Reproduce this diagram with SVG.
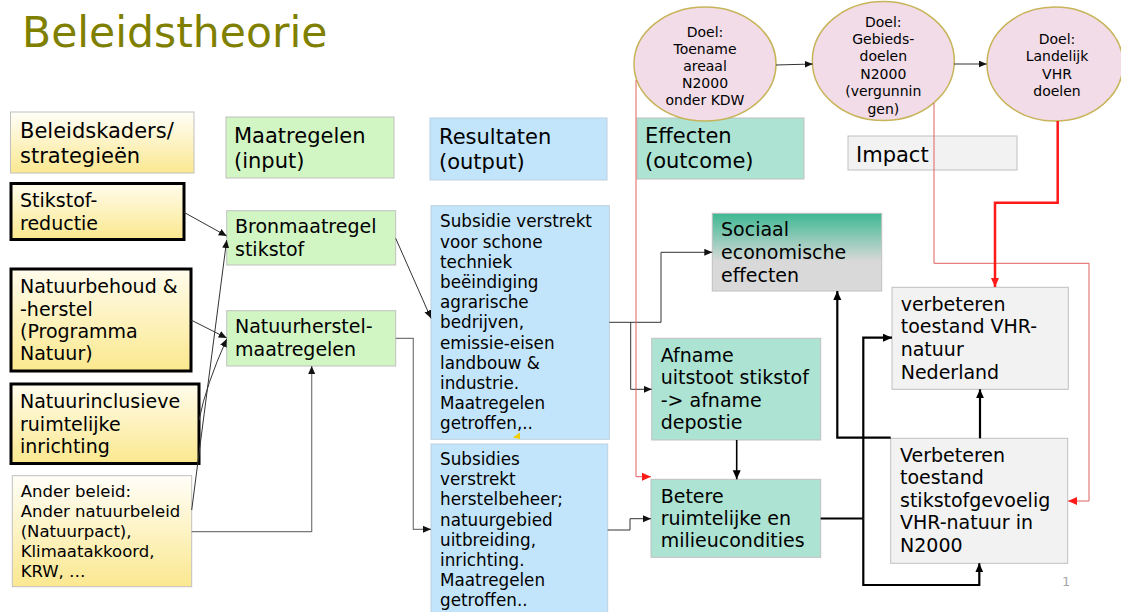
<svg xmlns="http://www.w3.org/2000/svg" width="1121" height="612" viewBox="0 0 1121 612">
<defs>
<style>
.t{font-family:"DejaVu Sans",Verdana,sans-serif;fill:#000}
.h{font-size:21px}
.m{font-size:19px}
.s{font-size:16.8px}
.e{font-size:14px;text-anchor:middle}
.thin{fill:none;stroke:#333;stroke-width:1}
.grey{fill:none;stroke:#777;stroke-width:1.2}
.thick{fill:none;stroke:#000;stroke-width:2.2}
.redthin{fill:none;stroke:#e06060;stroke-width:1}
.redthick{fill:none;stroke:#ff1a1a;stroke-width:2.5}
.bx{stroke:#c0c0c0;stroke-width:1}
.bold{stroke:#000;stroke-width:3}
.ell{fill:#f1dce8;stroke:#c8b45a;stroke-width:1.5}
</style>
<linearGradient id="gy" x1="0" y1="0" x2="0" y2="1"><stop offset="0" stop-color="#fffcec"/><stop offset="1" stop-color="#fbe88e"/></linearGradient>
<linearGradient id="gy2" x1="0" y1="0" x2="0" y2="1"><stop offset="0" stop-color="#fffef8"/><stop offset="1" stop-color="#fbe890"/></linearGradient>
<linearGradient id="gs" x1="0" y1="0" x2="0" y2="1"><stop offset="0" stop-color="#3db892"/><stop offset="0.62" stop-color="#d9d9d9"/><stop offset="1" stop-color="#d9d9d9"/></linearGradient>
<marker id="ab" markerUnits="userSpaceOnUse" markerWidth="9" markerHeight="8" refX="8" refY="3.5" orient="auto"><path d="M0,0 L8,3.5 L0,7 z" fill="#111"/></marker>
<marker id="abk" markerUnits="userSpaceOnUse" markerWidth="10" markerHeight="9" refX="9" refY="4" orient="auto"><path d="M0,0 L9,4 L0,8 z" fill="#000"/></marker>
<marker id="ar" markerUnits="userSpaceOnUse" markerWidth="10" markerHeight="9" refX="9" refY="4" orient="auto"><path d="M0,0 L9,4 L0,8 z" fill="#ff1a1a"/></marker>
</defs>
<rect width="1121" height="612" fill="#fff"/>
<text class="t" x="22" y="47" font-size="42.5" style="fill:#808000">Beleidstheorie</text>

<g id="hdr-beleidskaders"><rect class="bx" x="10.5" y="112" width="183.5" height="61" fill="url(#gy2)"/><text class="t h"><tspan x="20" y="138">Beleidskaders/</tspan><tspan x="20" y="163">strategieën</tspan></text></g>
<g id="hdr-maatregelen"><rect class="bx" x="226" y="117" width="168" height="61" fill="#d2f5c4"/><text class="t h"><tspan x="234" y="143">Maatregelen</tspan><tspan x="234" y="168">(input)</tspan></text></g>
<g id="hdr-resultaten"><rect x="430" y="118" width="177" height="62" fill="#c3e5fb" stroke="#bcd0e0" stroke-width="1"/><text class="t h"><tspan x="439" y="144">Resultaten</tspan><tspan x="439" y="169">(output)</tspan></text></g>
<g id="hdr-effecten"><rect class="bx" x="637" y="118" width="167" height="61" fill="#ade3d2"/><text class="t h"><tspan x="645" y="143">Effecten</tspan><tspan x="645" y="168">(outcome)</tspan></text></g>
<g id="hdr-impact"><rect class="bx" x="848" y="136" width="169" height="34" fill="#f2f2f2"/><text class="t h" x="856" y="162">Impact</text></g>

<g id="doel1"><ellipse class="ell" cx="705" cy="64" rx="71" ry="57"/><text class="t e"><tspan x="705" y="36.5">Doel:</tspan><tspan x="705" y="53.7">Toename</tspan><tspan x="705" y="70.9">areaal</tspan><tspan x="705" y="88.1">N2000</tspan><tspan x="705" y="105.3">onder KDW</tspan></text></g>
<g id="doel2"><ellipse class="ell" cx="883.3" cy="61" rx="71" ry="59.5"/><text class="t e"><tspan x="883.3" y="26.7">Doel:</tspan><tspan x="883.3" y="44">Gebieds-</tspan><tspan x="883.3" y="61.4">doelen</tspan><tspan x="883.3" y="78.8">N2000</tspan><tspan x="883.3" y="96.2">(vergunnin</tspan><tspan x="883.3" y="113.6">gen)</tspan></text></g>
<g id="doel3"><ellipse class="ell" cx="1055" cy="64" rx="68" ry="57"/><text class="t e"><tspan x="1057" y="44">Doel:</tspan><tspan x="1057" y="61.4">Landelijk</tspan><tspan x="1057" y="78.8">VHR</tspan><tspan x="1057" y="96.2">doelen</tspan></text></g>

<g id="stikstofreductie"><rect class="bold" x="11" y="183.5" width="173" height="56" fill="url(#gy)"/><text class="t m"><tspan x="20" y="207.3">Stikstof-</tspan><tspan x="20" y="229.5">reductie</tspan></text></g>
<g id="natuurbehoud"><rect class="bold" x="11" y="269" width="180" height="102" fill="url(#gy)"/><text class="t m"><tspan x="20" y="293.3">Natuurbehoud &amp;</tspan><tspan x="20" y="315.5">-herstel</tspan><tspan x="20" y="337.7">(Programma</tspan><tspan x="20" y="360">Natuur)</tspan></text></g>
<g id="natuurinclusief"><rect class="bold" x="11" y="384" width="188" height="79.5" fill="url(#gy)"/><text class="t m"><tspan x="20" y="408.3">Natuurinclusieve</tspan><tspan x="20" y="430.6">ruimtelijke</tspan><tspan x="20" y="453">inrichting</tspan></text></g>
<g id="anderbeleid"><rect class="bx" x="12.3" y="475.7" width="179.4" height="111" fill="url(#gy2)"/><text class="t s" style="font-size:16.5px"><tspan x="20.7" y="496.7">Ander beleid:</tspan><tspan x="20.7" y="516.8">Ander natuurbeleid</tspan><tspan x="20.7" y="536.9">(Natuurpact),</tspan><tspan x="20.7" y="557">Klimaatakkoord,</tspan><tspan x="20.7" y="577.1">KRW, …</tspan></text></g>

<g id="bronmaatregel"><rect class="bx" x="226.7" y="210.7" width="169" height="54.3" fill="#d2f5c4"/><text class="t m"><tspan x="235" y="233.3">Bronmaatregel</tspan><tspan x="235" y="256">stikstof</tspan></text></g>
<g id="natuurherstel"><rect class="bx" x="226.7" y="310.7" width="169" height="55.3" fill="#d2f5c4"/><text class="t m"><tspan x="235" y="333.3">Natuurherstel-</tspan><tspan x="235" y="356.3">maatregelen</tspan></text></g>

<g id="resultaat1"><rect x="431" y="205.7" width="178.3" height="233.6" fill="#c3e5fb" stroke="#bcd0e0" stroke-width="1"/><text class="t s"><tspan x="440" y="227.3">Subsidie verstrekt</tspan><tspan x="440" y="247.5">voor schone</tspan><tspan x="440" y="267.7">techniek</tspan><tspan x="440" y="287.9">beëindiging</tspan><tspan x="440" y="308.1">agrarische</tspan><tspan x="440" y="328.3">bedrijven,</tspan><tspan x="440" y="348.5">emissie-eisen</tspan><tspan x="440" y="368.7">landbouw &amp;</tspan><tspan x="440" y="388.9">industrie.</tspan><tspan x="440" y="409.1">Maatregelen</tspan><tspan x="440" y="429.3">getroffen,..</tspan></text><polygon points="520,432.5 513,437.5 520,439" fill="#f2cc00"/></g>
<g id="resultaat2"><rect x="431" y="444" width="176.7" height="175" fill="#c3e5fb" stroke="#bcd0e0" stroke-width="1"/><text class="t s"><tspan x="440" y="465">Subsidies</tspan><tspan x="440" y="485.2">verstrekt</tspan><tspan x="440" y="505.4">herstelbeheer;</tspan><tspan x="440" y="525.6">natuurgebied</tspan><tspan x="440" y="545.8">uitbreiding,</tspan><tspan x="440" y="566">inrichting.</tspan><tspan x="440" y="586.2">Maatregelen</tspan><tspan x="440" y="606.4">getroffen..</tspan></text></g>

<g id="sociaal"><rect class="bx" x="712.3" y="213.3" width="169.4" height="77.7" fill="url(#gs)"/><text class="t m"><tspan x="721" y="236">Sociaal</tspan><tspan x="721" y="259">economische</tspan><tspan x="721" y="281.7">effecten</tspan></text></g>
<g id="afname"><rect class="bx" x="651.7" y="338.3" width="169" height="101.7" fill="#ade3d2"/><text class="t m"><tspan x="660.7" y="361.7">Afname</tspan><tspan x="660.7" y="384.2">uitstoot stikstof</tspan><tspan x="660.7" y="406.7">-&gt; afname</tspan><tspan x="660.7" y="429">depostie</tspan></text></g>
<g id="betere"><rect class="bx" x="651" y="479.3" width="169.7" height="78" fill="#ade3d2"/><text class="t m"><tspan x="660.7" y="502.7">Betere</tspan><tspan x="660.7" y="525">ruimtelijke en</tspan><tspan x="660.7" y="547.3">milieucondities</tspan></text></g>

<g id="vhr-nederland"><rect class="bx" x="892" y="287.3" width="176.3" height="102" fill="#f2f2f2"/><text class="t m"><tspan x="900.7" y="310.7">verbeteren</tspan><tspan x="900.7" y="333.3">toestand VHR-</tspan><tspan x="900.7" y="356">natuur</tspan><tspan x="900.7" y="378.7">Nederland</tspan></text></g>
<g id="vhr-n2000"><rect class="bx" x="890.7" y="438.3" width="177" height="125" fill="#f2f2f2"/><text class="t m"><tspan x="900" y="461.7">Verbeteren</tspan><tspan x="900" y="484.2">toestand</tspan><tspan x="900" y="506.7">stikstofgevoelig</tspan><tspan x="900" y="529.2">VHR-natuur in</tspan><tspan x="900" y="551.7">N2000</tspan></text></g>

<g id="connectors">
<path class="thin" d="M184,212.3 L226.7,236" marker-end="url(#ab)"/>
<path class="thin" d="M191,320 L226.7,338" marker-end="url(#ab)"/>
<path class="thin" d="M199,420 Q206,385 226.7,339" marker-end="url(#ab)"/>
<path class="thin" d="M191.7,510 L226.7,240" marker-end="url(#ab)"/>
<path class="grey" d="M191.7,531.7 H311.7 V366" marker-end="url(#ab)"/>
<path class="thin" d="M395.7,238.3 L431,318.3" marker-end="url(#ab)"/>
<path class="grey" d="M395.7,338.3 H413.3 V529.3 H431" marker-end="url(#ab)"/>
<path class="thin" d="M609.3,322.3 H661 V252.3 H712.3" marker-end="url(#ab)"/>
<path class="thin" d="M630.7,322.3 V389.3 H651.7" marker-end="url(#ab)"/>
<path class="thin" d="M607.7,530 H630 V518.7 H651" marker-end="url(#ab)"/>
<path class="thin" d="M776,65 L812.7,64" marker-end="url(#ab)"/>
<path class="thin" d="M954,64 L986.7,64" marker-end="url(#ab)"/>
<path class="thick" style="stroke-width:1.6" d="M736.7,440 V479.3" marker-end="url(#abk)"/>
<path class="thick" d="M820.7,518.5 H863.3"/>
<path class="thick" d="M863.3,518.5 V337.7 H892" marker-end="url(#abk)"/>
<path class="thick" d="M863.3,518.5 V585 H979.3 V563.3" marker-end="url(#abk)"/>
<path class="thick" d="M890.7,437.7 H837.3 V291" marker-end="url(#abk)"/>
<path class="thick" d="M980,438.3 V389.3" marker-end="url(#abk)"/>
<path class="redthin" d="M636,80 V476.7 H651" marker-end="url(#ar)"/>
<path class="redthin" d="M934,103 V263.3 H1089 V501 H1068" marker-end="url(#ar)"/>
<path class="redthick" d="M1057.7,121 V202.7 H995 V287" marker-end="url(#ar)"/>
</g>
<text x="1062" y="586" font-family="DejaVu Sans, sans-serif" font-size="13" fill="#a6a6a6">1</text>
</svg>
